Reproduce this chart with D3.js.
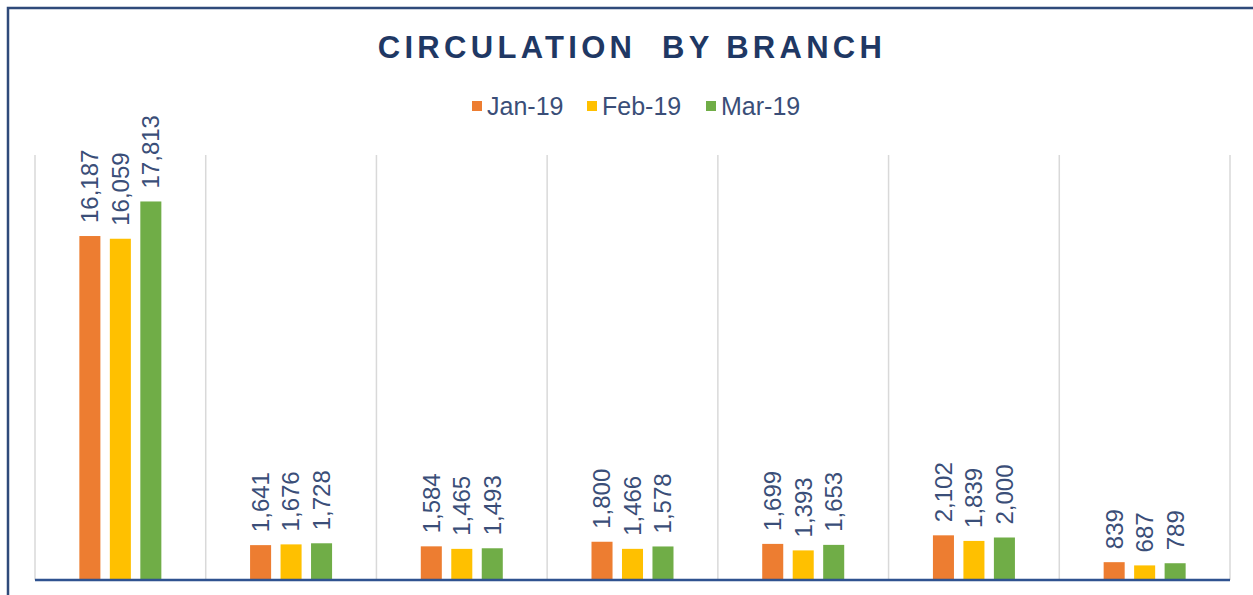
<!DOCTYPE html>
<html>
<head>
<meta charset="utf-8">
<script src="https://cdn.jsdelivr.net/npm/d3@7"></script>
<style>
  body { margin: 0; background: #fff; }
  text { font-family: Arial, "Liberation Sans", sans-serif; }
</style>
</head>
<body>
<div id="chart"></div>
<script>
// branch names are not visible in the picture (cut off below the axis)
var branches = ['B1', 'B2', 'B3', 'B4', 'B5', 'B6', 'B7'];
var months = ['Jan-19', 'Feb-19', 'Mar-19'];
var jan19 = [16187, 1641, 1584, 1800, 1699, 2102, 839];
var feb19 = [16059, 1676, 1465, 1466, 1393, 1839, 687];
var mar19 = [17813, 1728, 1493, 1578, 1653, 2000, 789];
var colors = ['#ED7D31', '#FFC000', '#70AD47'];

var width = 1253, height = 595;
var margin = {top: 155, right: 23, bottom: 15, left: 35};
var plotW = width - margin.left - margin.right,
    plotH = height - margin.top - margin.bottom;

var svg = d3.select('#chart').append('svg')
    .attr('width', width)
    .attr('height', height);

// outer frame, only top and left edges fall inside the picture
svg.append('rect')
    .attr('x', 8).attr('y', 8)
    .attr('width', width + 20).attr('height', height + 20)
    .style('fill', 'none')
    .style('stroke', '#2F4A7A')
    .style('stroke-width', 2.5);

svg.append('text')
    .attr('x', 632).attr('y', 58)
    .attr('text-anchor', 'middle')
    .style('font-size', '31px')
    .style('font-weight', 'bold')
    .style('letter-spacing', '4.3px')
    .style('white-space', 'pre')
    .style('fill', '#1F3864')
    .text('CIRCULATION  BY BRANCH');

// legend
var legendX = [472, 587, 706];
var legend = svg.append('g').attr('class', 'legend');
months.forEach(function(m, i) {
    legend.append('rect')
        .attr('x', legendX[i]).attr('y', 101)
        .attr('width', 10).attr('height', 10)
        .style('fill', colors[i]);
    legend.append('text')
        .attr('x', legendX[i] + 15).attr('y', 115)
        .style('font-size', '25px')
        .style('fill', '#3A4E78')
        .text(m);
});

var g = svg.append('g')
    .attr('transform', 'translate(' + margin.left + ',' + margin.top + ')');

var x0 = d3.scaleBand().domain(branches).range([0, plotW]).padding(0);
var groupW = 82;
var x1 = d3.scaleBand().domain(months).range([0, groupW]).paddingInner(0.31).paddingOuter(0);
var y = d3.scaleLinear().domain([0, 20000]).range([plotH, 0]);

// vertical separators between branches
var bounds = branches.map(function(b) { return x0(b); }).concat([plotW]);
g.selectAll('.sep')
    .data(bounds)
    .enter().append('line')
    .attr('class', 'sep')
    .attr('x1', function(d) { return d; })
    .attr('x2', function(d) { return d; })
    .attr('y1', 0)
    .attr('y2', plotH)
    .style('stroke', '#D9D9D9')
    .style('stroke-width', 1.5);

var series = [jan19, feb19, mar19];
var rows = [];
branches.forEach(function(b, bi) {
    months.forEach(function(m, mi) {
        rows.push({branch: b, month: m, idx: mi, value: series[mi][bi]});
    });
});

function barX(d) {
    return x0(d.branch) + (x0.bandwidth() - groupW) / 2 + x1(d.month);
}

g.selectAll('.bar')
    .data(rows)
    .enter().append('rect')
    .attr('class', 'bar')
    .attr('x', barX)
    .attr('y', function(d) { return y(d.value); })
    .attr('width', x1.bandwidth())
    .attr('height', function(d) { return plotH - y(d.value); })
    .style('fill', function(d) { return colors[d.idx]; });

g.selectAll('.lbl')
    .data(rows)
    .enter().append('text')
    .attr('class', 'lbl')
    .attr('transform', function(d) {
        return 'translate(' + (barX(d) + x1.bandwidth() / 2) + ',' + (y(d.value) - 13) + ') rotate(-90)';
    })
    .attr('dy', '0.35em')
    .style('font-size', '24px')
    .style('fill', '#3A4E78')
    .text(function(d) { return d3.format(',')(d.value); });

// category axis line
g.append('line')
    .attr('x1', 0).attr('x2', plotW)
    .attr('y1', plotH).attr('y2', plotH)
    .style('stroke', '#2F5290')
    .style('stroke-width', 2.5);
</script>
</body>
</html>
